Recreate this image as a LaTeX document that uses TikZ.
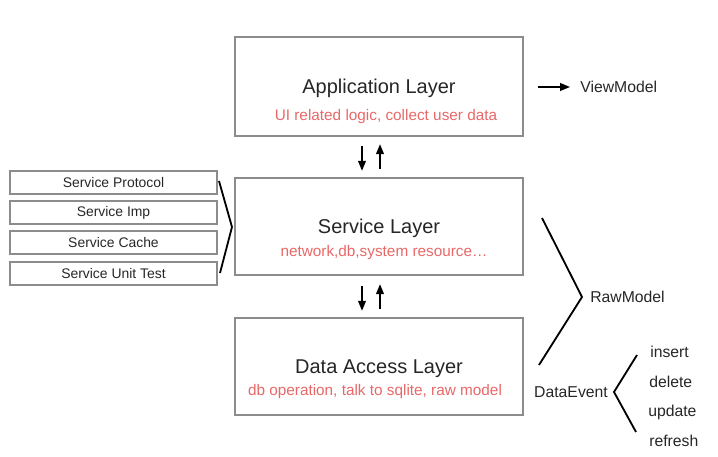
\documentclass[tikz,border=0pt]{standalone}
\usepackage{fontspec}
\setmainfont{Liberation Sans}
\usetikzlibrary{arrows.meta}
\usetikzlibrary{positioning}
\definecolor{boxgray}{RGB}{140,140,140}
\definecolor{notered}{RGB}{232,104,104}

\tikzset{
    layer/.style={draw=boxgray, line width=1.1pt, minimum width=7.2cm, inner sep=0pt},
    sub/.style={draw=boxgray, line width=1.1pt, minimum width=5.175cm, minimum height=0.575cm, inner sep=0pt, font=\fontsize{9.9}{11}\selectfont, text=black!85},
    title/.style={font=\fontsize{14.2}{16}\selectfont, text=black!85},
    note/.style={text=notered, font=\fontsize{10.9}{12}\selectfont},
    lbl/.style={font=\fontsize{11.2}{12}\selectfont, inner sep=0pt, text=black!85},
    arr/.style={-{Triangle[length=7pt,width=5.5pt]}, line width=1pt},
    brace/.style={line width=1.3pt}
}

\begin{document}
\begin{tikzpicture}[x=0.025cm, y=-0.025cm]
                \useasboundingbox (0,0) rectangle (718,457);
                % layers
                \node[layer, minimum height=2.475cm] (app) at (379,86.5) {};
                \node[title] (apptitle) at (379,88) {Application Layer};
                \node[note] (appnote) at (386,117) {UI related logic, collect user data};
                \node[layer, minimum height=2.425cm] (svc) at (379,226.5) {};
                \node[title] (svctitle) at (379,228) {Service Layer};
                \node[note] (svcnote) at (384,253) {network,db,system resource\ldots};
                \node[layer, minimum height=2.425cm] (dal) at (379,366.5) {};
                \node[title] (daltitle) at (379,369) {Data Access Layer};
                \node[note] (dalnote) at (375,392) {db operation, talk to sqlite, raw model};
                % service parts
                \node[sub] (proto) at (113.5,182.5) {Service Protocol};
                \node[sub] (imp) at (113.5,212.5) {Service Imp};
                \node[sub] (cache) at (113.5,242.5) {Service Cache};
                \node[sub] (utest) at (113.5,273.5) {Service Unit Test};
                \coordinate (b1) at (219,181);
                \coordinate (b2) at (232,227);
                \coordinate (b3) at (220,273);
                \draw[brace] (b1) -- (b2) -- (b3);
                % arrows between layers
                \draw[arr] (app.south) ++(-17,9) -- ++(0,25);
                \draw[arr] (svc.north) ++(1,-8) -- ++(0,-25);
                \draw[arr] (svc.south) ++(-17,10) -- ++(0,25);
                \draw[arr] (dal.north) ++(1,-8) -- ++(0,-25);
                % view model
                \node[lbl, anchor=west] (vm) at (580,87) {ViewModel};
                \draw[arr] (vm.west) ++(-42,0) -- ++(32,0);
                % raw model
                \node[lbl, anchor=west] (raw) at (590,297) {RawModel};
                \coordinate (r1) at (542,218);
                \coordinate (r2) at (582,297);
                \coordinate (r3) at (539,365);
                \draw[brace] (r1) -- (r2) -- (r3);
                % data events
                \node[lbl] (evt) at (571,392) {DataEvent};
                \coordinate (e1) at (637,355);
                \coordinate (e2) at (614,392);
                \coordinate (e3) at (636,432);
                \draw[brace] (e1) -- (e2) -- (e3);
                \node[lbl, anchor=west] (ins) at (650,352) {insert};
                \node[lbl, anchor=west] (del) at (649,382) {delete};
                \node[lbl, anchor=west] (upd) at (648,412) {update};
                \node[lbl, anchor=west] (ref) at (649,441) {refresh};
\end{tikzpicture}
\end{document}
